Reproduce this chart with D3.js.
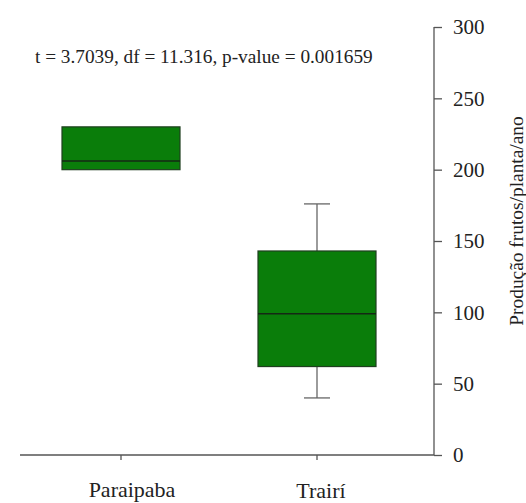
<!DOCTYPE html>
<html><head><meta charset="utf-8">
<script src="https://cdn.jsdelivr.net/npm/d3@7"></script>
<style>body{margin:0;background:#fff}svg{display:block}text{font-family:"Liberation Serif","Times New Roman",serif;fill:#222}</style>
</head><body>
<script>
const categories = ["Paraipaba", "Trairí"];
const q1 = [200, 62];
const medians = [206, 99];
const q3 = [230, 143];
const whiskerLow = [200, 40];
const whiskerHigh = [230, 176];
const yTicks = [0, 50, 100, 150, 200, 250, 300];
const annotation = "t = 3.7039, df = 11.316, p-value = 0.001659";
const yTitle = "Produção frutos/planta/ano";

const W = 526, H = 503;
const svg = d3.select("body").append("svg").attr("width", W).attr("height", H);
const y = d3.scaleLinear().domain([0, 300]).range([455, 27]);
const x = d3.scalePoint().domain(categories).range([121, 317]);
const boxW = 118, capW = 26;
const axisColor = "#555";

// x axis line
svg.append("line").attr("x1", 20).attr("x2", 434).attr("y1", y(0)).attr("y2", y(0))
  .attr("stroke", axisColor).attr("stroke-width", 1.3);
categories.forEach(c => {
  svg.append("line").attr("x1", x(c)).attr("x2", x(c)).attr("y1", y(0)).attr("y2", y(0) + 5)
    .attr("stroke", axisColor).attr("stroke-width", 1.3);
});
svg.selectAll(".xl").data(categories).enter().append("text")
  .attr("x", (d, i) => x(d) + (i === 0 ? 11 : 4)).attr("y", (d, i) => i === 0 ? 497 : 498)
  .attr("text-anchor", "middle").attr("font-size", 22).text(d => d);

// y axis on right
const yAxis = d3.axisRight(y).tickValues(yTicks).tickSize(8).tickPadding(11);
const ga = svg.append("g").attr("transform", "translate(434,0)").call(yAxis);
ga.select(".domain").attr("stroke", axisColor).attr("stroke-width", 1.3).attr("d", `M0,${y(300)}V${y(0)}`);
ga.selectAll(".tick line").attr("stroke", axisColor).attr("stroke-width", 1.3);
ga.selectAll(".tick text").attr("font-size", 21).attr("font-family", "Liberation Serif, serif").attr("fill", "#222").attr("dy", "0.32em");

svg.append("text").attr("transform", `translate(523,${y(150) - 20}) rotate(-90)`)
  .attr("text-anchor", "middle").attr("font-size", 19.4).text(yTitle);

// annotation
svg.append("text").attr("x", 35).attr("y", 63).attr("font-size", 19.3).text(annotation);

// boxes
categories.forEach((c, i) => {
  const cx = x(c);
  const g = svg.append("g");
  if (whiskerHigh[i] > q3[i]) {
    g.append("line").attr("x1", cx).attr("x2", cx).attr("y1", y(q3[i])).attr("y2", y(whiskerHigh[i])).attr("stroke", "#666").attr("stroke-width", 1.3);
    g.append("line").attr("x1", cx - capW / 2).attr("x2", cx + capW / 2).attr("y1", y(whiskerHigh[i])).attr("y2", y(whiskerHigh[i])).attr("stroke", "#666").attr("stroke-width", 1.3);
  }
  if (whiskerLow[i] < q1[i]) {
    g.append("line").attr("x1", cx).attr("x2", cx).attr("y1", y(q1[i])).attr("y2", y(whiskerLow[i])).attr("stroke", "#666").attr("stroke-width", 1.3);
    g.append("line").attr("x1", cx - capW / 2).attr("x2", cx + capW / 2).attr("y1", y(whiskerLow[i])).attr("y2", y(whiskerLow[i])).attr("stroke", "#666").attr("stroke-width", 1.3);
  }
  g.append("rect").attr("x", cx - boxW / 2).attr("width", boxW)
    .attr("y", y(q3[i])).attr("height", y(q1[i]) - y(q3[i]))
    .attr("fill", "#0a7d0a").attr("stroke", "#1f3f1f").attr("stroke-width", 1.2);
  g.append("line").attr("x1", cx - boxW / 2).attr("x2", cx + boxW / 2)
    .attr("y1", y(medians[i])).attr("y2", y(medians[i])).attr("stroke", "#142814").attr("stroke-width", 1.5);
});
</script>
</body></html>
